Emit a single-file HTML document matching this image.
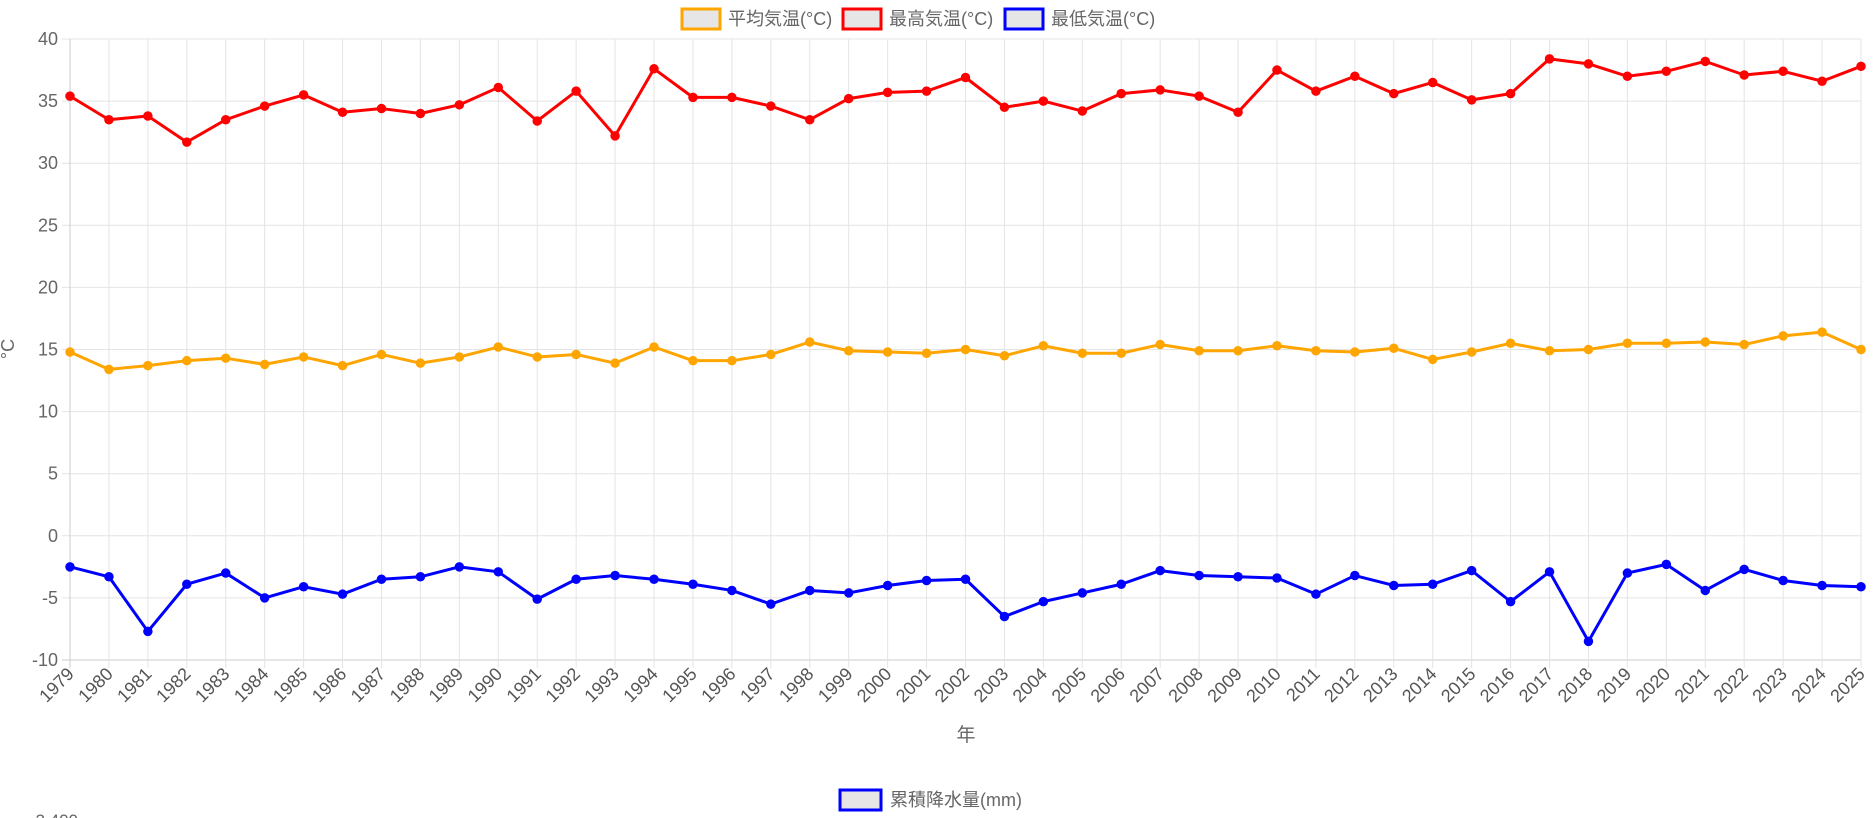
<!DOCTYPE html>
<html><head><meta charset="utf-8">
<style>
html,body{margin:0;padding:0;background:#fff;width:1873px;height:818px;overflow:hidden}
svg{display:block;font-family:"Liberation Sans","Noto Sans CJK JP",sans-serif}
</style></head>
<body>
<svg id="chart" width="1873" height="818" viewBox="0 0 1873 818" xmlns="http://www.w3.org/2000/svg">
<g id="grid"></g>
<g id="yticks"></g>
<g id="xticks"></g>
<g id="series"></g>
<text x="14" y="349" transform="rotate(-90 14 349)" text-anchor="middle" font-size="18" fill="#666">°C</text>
<text x="966" y="741" text-anchor="middle" font-size="19" fill="#666">年</text>
<g><rect x="682" y="9" width="38" height="20" fill="#e6e6e6" stroke="#ffa500" stroke-width="3"/><text x="728" y="25" font-size="18" fill="#666">平均気温(°C)</text></g>
<g><rect x="843" y="9" width="38" height="20" fill="#e6e6e6" stroke="#ff0000" stroke-width="3"/><text x="889" y="25" font-size="18" fill="#666">最高気温(°C)</text></g>
<g><rect x="1005" y="9" width="38" height="20" fill="#e6e6e6" stroke="#0000ff" stroke-width="3"/><text x="1051" y="25" font-size="18" fill="#666">最低気温(°C)</text></g>
<g><rect x="840" y="790" width="41" height="20" fill="#e6e6e6" stroke="#0000ff" stroke-width="3"/><text x="890" y="806" font-size="18" fill="#666">累積降水量(mm)</text></g>
<text x="78" y="826" text-anchor="end" font-size="17" fill="#666">2,400</text>
</svg>
<script>
const years = [];
for (let y = 1979; y <= 2025; y++) years.push(String(y));
const yTicks = [40,35,30,25,20,15,10,5,0,-5,-10];
const maxTemp = [35.4,33.5,33.8,31.7,33.5,34.6,35.5,34.1,34.4,34.0,34.7,36.1,33.4,35.8,32.2,37.6,35.3,35.3,34.6,33.5,35.2,35.7,35.8,36.9,34.5,35.0,34.2,35.6,35.9,35.4,34.1,37.5,35.8,37.0,35.6,36.5,35.1,35.6,38.4,38.0,37.0,37.4,38.2,37.1,37.4,36.6,37.8];
const avgTemp = [14.8,13.4,13.7,14.1,14.3,13.8,14.4,13.7,14.6,13.9,14.4,15.2,14.4,14.6,13.9,15.2,14.1,14.1,14.6,15.6,14.9,14.8,14.7,15.0,14.5,15.3,14.7,14.7,15.4,14.9,14.9,15.3,14.9,14.8,15.1,14.2,14.8,15.5,14.9,15.0,15.5,15.5,15.6,15.4,16.1,16.4,15.0];
const minTemp = [-2.5,-3.3,-7.7,-3.9,-3.0,-5.0,-4.1,-4.7,-3.5,-3.3,-2.5,-2.9,-5.1,-3.5,-3.2,-3.5,-3.9,-4.4,-5.5,-4.4,-4.6,-4.0,-3.6,-3.5,-6.5,-5.3,-4.6,-3.9,-2.8,-3.2,-3.3,-3.4,-4.7,-3.2,-4.0,-3.9,-2.8,-5.3,-2.9,-8.5,-3.0,-2.3,-4.4,-2.7,-3.6,-4.0,-4.1];

const L=70,R=1861,T=39,B=660,vMax=40,vMin=-10;
const NS='http://www.w3.org/2000/svg';
const xs=i=>L+(R-L)*i/(years.length-1);
const ys=v=>T+(vMax-v)/(vMax-vMin)*(B-T);
function mk(tag,attrs,parent){const e=document.createElementNS(NS,tag);for(const k in attrs)e.setAttribute(k,attrs[k]);parent.appendChild(e);return e;}
const grid=document.getElementById('grid'),yt=document.getElementById('yticks'),xt=document.getElementById('xticks'),ser=document.getElementById('series');
yTicks.forEach(v=>{
  const l=mk('line',{x1:L-8,x2:R,y1:ys(v),y2:ys(v),stroke:v===vMin?'#ccc':'#e4e4e4','stroke-width':1},grid);
  
  
  const t=mk('text',{x:L-12,y:ys(v)+6,'text-anchor':'end','font-size':18,fill:'#666'},yt);
  t.textContent=v;
  
  
});
years.forEach((y,i)=>{
  const x=xs(i);
  const l=mk('line',{x1:x,x2:x,y1:T,y2:B+8,stroke:i===0?'#ccc':'#e4e4e4','stroke-width':1},grid);
  
  
  const t=mk('text',{x:x+5,y:B+15,'text-anchor':'end','font-size':18,fill:'#555',transform:`rotate(-45 ${x+5} ${B+15})`},xt);
  t.textContent=y;
  
  
});
function drawSeries(data,color,name){
  const g=mk('g',{},ser);
  
  
  const p=mk('polyline',{points:data.map((v,i)=>xs(i)+','+ys(v)).join(' '),fill:'none',stroke:color,'stroke-width':3,'stroke-linejoin':'round'},g);
  
  
  data.forEach((v,i)=>{
    const c=mk('circle',{cx:xs(i),cy:ys(v),r:4,fill:color,stroke:color,'stroke-width':1.5},g);
    
    
  });
}
drawSeries(avgTemp,'#ffa500','avg-temp-series');
drawSeries(maxTemp,'#ff0000','max-temp-series');
drawSeries(minTemp,'#0000ff','min-temp-series');
</script>
</body></html>
